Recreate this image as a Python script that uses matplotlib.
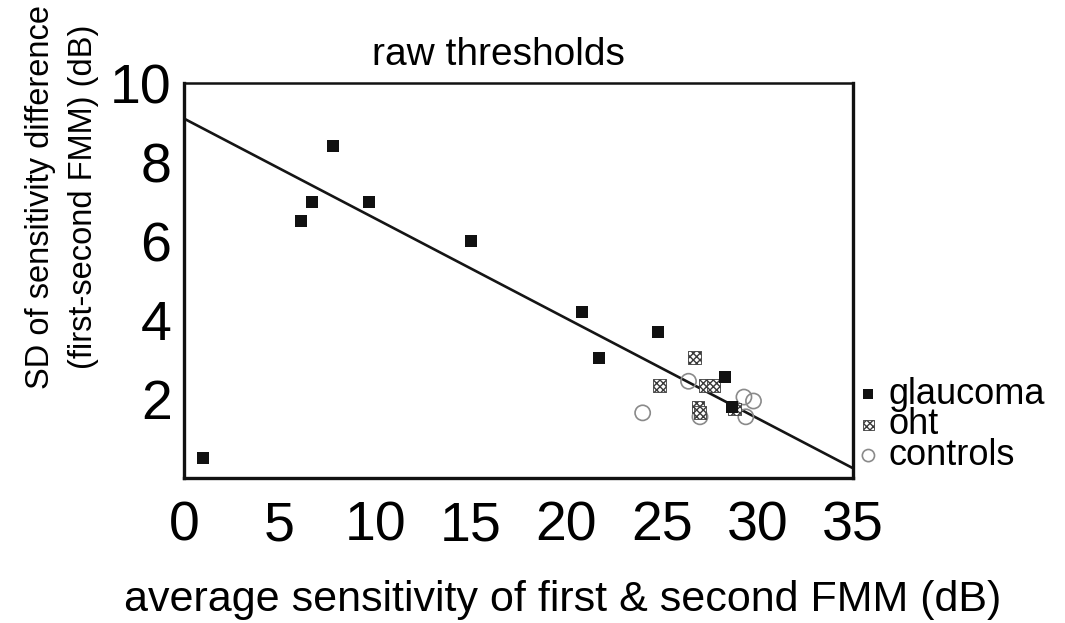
import matplotlib
matplotlib.use("Agg")
import matplotlib.pyplot as plt
import numpy as np

plt.rcParams['font.family'] = ['Liberation Sans', 'DejaVu Sans']

# average sensitivity (dB) vs SD of test-retest difference (dB)
glaucoma_x = [1.0, 6.1, 6.7, 7.8, 9.7, 15.0, 20.8, 21.7, 24.8, 28.3, 28.7]
glaucoma_y = [0.5, 6.5, 7.0, 8.4, 7.0, 6.0, 4.2, 3.05, 3.7, 2.55, 1.8]

oht_x = [24.9, 26.7, 27.3, 27.7, 26.9, 27.0, 28.8]
oht_y = [2.35, 3.05, 2.35, 2.35, 1.8, 1.65, 1.75]

controls_x = [24.0, 26.4, 27.0, 29.3, 29.8, 29.4]
controls_y = [1.65, 2.45, 1.55, 2.05, 1.95, 1.55]

# linear fit drawn across the whole x range
fit_x = [0, 35]
fit_y = [9.1, 0.25]

xticks = [0, 5, 10, 15, 20, 25, 30, 35]
yticks = [2, 4, 6, 8, 10]

fig = plt.figure(figsize=(10.65, 6.23), dpi=100)
ax = fig.add_axes([0.1728, 0.2327, 0.628, 0.634])

ax.plot(fit_x, fit_y, color='#151515', lw=1.9, zorder=2)
ax.scatter(controls_x, controls_y, s=120, marker='o', facecolor='none',
           edgecolor='#8a8a8a', linewidths=1.2, zorder=3, label='controls')
ax.scatter(oht_x, oht_y, s=85, marker='s', facecolor='white',
           edgecolor='#3a3a3a', hatch='xxxxx', linewidths=0.6, zorder=4, label='oht')
ax.scatter(glaucoma_x, glaucoma_y, s=85, marker='s', color='#111111',
           linewidths=0, zorder=5, label='glaucoma')

ax.set_xlim(0, 35)
ax.set_ylim(0, 10)
ax.set_xticks(xticks)
ax.set_yticks(yticks)
ax.tick_params(length=0, labelsize=40)
ax.tick_params(axis='x', pad=16)
ax.tick_params(axis='y', pad=9)
for s in ax.spines.values():
    s.set_linewidth(2.4)
    s.set_color('#111111')
ax.spines['top'].set_linewidth(1.8)

handles, labels = ax.get_legend_handles_labels()
order = [2, 1, 0]
leg = fig.legend([handles[i] for i in order], [labels[i] for i in order],
                 loc='center left', bbox_to_anchor=(0.79, 0.318),
                 frameon=False, fontsize=26, handlelength=0.5,
                 handletextpad=0.3, labelspacing=-0.12, borderpad=0,
                 markerscale=0.8)

fig.text(0.468, 0.912, 'raw thresholds', fontsize=28, ha='center', va='center')
fig.text(0.528, 0.037, 'average sensitivity of first & second FMM (dB)',
         fontsize=31, ha='center', va='center')
fig.text(0.058, 0.684, 'SD of sensitivity difference\n(first-second FMM) (dB)',
         fontsize=23.5, rotation=90, ha='center', va='center',
         multialignment='center', linespacing=1.5)

fig.savefig('out.png', dpi=100)
